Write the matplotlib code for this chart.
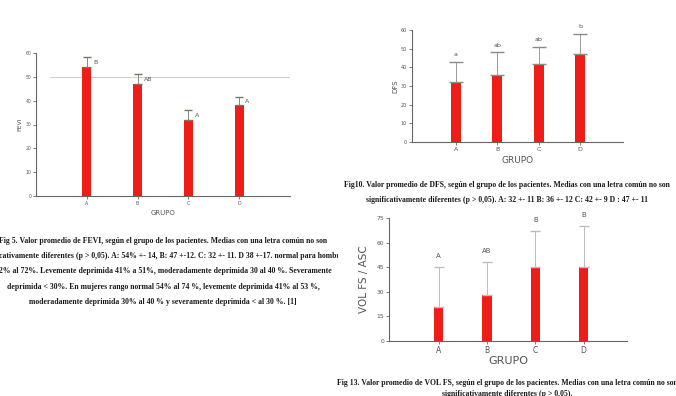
import matplotlib
matplotlib.use("Agg")
import matplotlib.pyplot as plt
from matplotlib.transforms import Bbox, TransformedBbox

# ---- data ----
grupos = ["A", "B", "C", "D"]

fevi_mean = [54, 47, 32, 38]
fevi_err = [4.5, 4.3, 4.0, 3.6]
fevi_letters = ["B", "AB", "A", "A"]
fevi_ticks = [0, 10, 20, 30, 40, 50, 60]
fevi_ref = 50

dfs_mean = [32, 36, 42, 47]
dfs_err = [11, 12, 9, 11]
dfs_letters = ["a", "ab", "ab", "b"]
dfs_ticks = [0, 10, 20, 30, 40, 50, 60]

vol_mean = [21, 28, 45, 45]
vol_err = [24, 20, 22, 25]
vol_letters = ["A", "AB", "B", "B"]
vol_ticks = [0, 15, 30, 45, 60, 75]

cap_fevi = [
    "Fig 5. Valor promedio de FEVI, según el grupo de los pacientes. Medias con una letra común no son",
    "significativamente diferentes (p > 0,05). A: 54% +- 14, B: 47 +-12. C: 32 +- 11. D 38 +-17. normal para hombres",
    "52% al 72%. Levemente deprimida 41% a 51%, moderadamente deprimida 30 al 40 %. Severamente",
    "deprimida < 30%. En mujeres rango normal 54% al 74 %, levemente deprimida 41% al 53 %,",
    "moderadamente deprimida 30% al 40 % y severamente deprimida < al 30 %. [1]",
]
cap_dfs = [
    "Fig10. Valor promedio de DFS, según el grupo de los pacientes. Medias con una letra común no son",
    "significativamente diferentes (p > 0,05). A: 32 +- 11 B: 36 +- 12 C: 42 +- 9 D : 47 +- 11",
]
cap_vol = [
    "Fig 13. Valor promedio de VOL FS, según el grupo de los pacientes. Medias con una letra común no son",
    "significativamente diferentes (p > 0,05).",
]

W, H = 676, 396
RED = "#ee1d18"
AXC = "#666666"

fig = plt.figure(figsize=(W / 100, H / 100), dpi=100)
fig.patch.set_facecolor("white")


def px_axes(x0, ytop, x1, ybot):
    return fig.add_axes([x0 / W, 1 - ybot / H, (x1 - x0) / W, (ybot - ytop) / H])


def style(ax, ticks, xlim, tick_fs, ylabel, ylab_fs, grupo_fs):
    ax.set_xlim(*xlim)
    ax.set_ylim(ticks[0], ticks[-1])
    ax.set_yticks(ticks)
    ax.set_xticks(range(len(grupos)))
    ax.set_xticklabels(grupos)
    for s in ("top", "right"):
        ax.spines[s].set_visible(False)
    for s in ("left", "bottom"):
        ax.spines[s].set_color(AXC)
        ax.spines[s].set_linewidth(0.8)
    ax.tick_params(axis="both", colors=AXC, labelcolor="#555555",
                   labelsize=tick_fs, length=2, width=0.6, pad=1.5)
    ax.set_ylabel(ylabel, fontsize=ylab_fs, color="#555555", labelpad=2)
    ax.set_xlabel("GRUPO", fontsize=grupo_fs, color="#555555", labelpad=3)
    ax.patch.set_alpha(0)


x = range(len(grupos))

# ---- FEVI ----
ax1 = px_axes(36, 53, 290, 196)
ax1.bar(x, fevi_mean, width=0.17, color=RED, zorder=2)
ax1.errorbar(x, fevi_mean, yerr=[[0] * 4, fevi_err], fmt="none",
             ecolor="#777766", elinewidth=0.6, capsize=3.2, capthick=1.0, zorder=3)
ax1.axhline(fevi_ref, xmin=0.055, xmax=1.0, color="#c8c8c8", lw=0.6, zorder=1)
for i, (m, e, l) in enumerate(zip(fevi_mean, fevi_err, fevi_letters)):
    ax1.text(i + 0.12, m + e * 0.45, l, fontsize=4.5, color="#555555",
             ha="left", va="center")
style(ax1, fevi_ticks, (-1, 4), 3.3, "FEVI", 4.5, 5)

# ---- DFS ----
ax2 = px_axes(412, 30, 623, 142)
ax2.bar(x, dfs_mean, width=0.24, color=RED, zorder=2)
ax2.errorbar(x, dfs_mean, yerr=[[0] * 4, dfs_err], fmt="none",
             ecolor="#8a8a8a", elinewidth=0.6, capsize=5, capthick=1.0, zorder=3)
for i, (m, e, l) in enumerate(zip(dfs_mean, dfs_err, dfs_letters)):
    ax2.text(i, m + e + 2.5, l, fontsize=4.5, color="#555555",
             ha="center", va="bottom")
style(ax2, dfs_ticks, (-1.06, 4.04), 3.5, "DFS", 5, 6.5)
ax2.tick_params(axis="x", labelsize=4.5)

# ---- VOL FS / ASC ----
ax3 = px_axes(389, 218, 627, 341)
ax3.bar(x, vol_mean, width=0.19, color=RED, zorder=2)
ax3.errorbar(x, vol_mean, yerr=[[0] * 4, vol_err], fmt="none",
             ecolor="#bdbdbd", elinewidth=0.7, capsize=3.5, capthick=1.0, zorder=3)
for i, (m, e, l) in enumerate(zip(vol_mean, vol_err, vol_letters)):
    ax3.text(i, m + e + 5, l, fontsize=5, color="#555555",
             ha="center", va="bottom")
style(ax3, vol_ticks, (-1.03, 3.9), 4.3, "VOL FS / ASC", 7.5, 8)
ax3.set_ylabel("VOL FS / ASC", fontsize=7.5, color="#555555", labelpad=5)
ax3.xaxis.labelpad = 1
ax3.tick_params(axis="x", labelsize=5.5)

# ---- captions ----
cap_kw = dict(family="Liberation Serif", fontweight="bold", fontsize=5.6,
              color="#1a1a1a", ha="center", va="center")


def caption(lines, xc, ys, clip):
    box = TransformedBbox(Bbox.from_extents(clip[0] / W, 0, clip[1] / W, 1),
                          fig.transFigure)
    for line, y in zip(lines, ys):
        t = fig.text(xc / W, 1 - y / H, line, **cap_kw)
        t.set_clip_box(box)
        t.set_clip_on(True)


caption(cap_fevi, 163, [241, 256, 271, 287, 302], (0, 338))
caption(cap_dfs, 507, [185, 200], (334, 676))
caption(cap_vol, 507, [383, 394], (332, 676))

fig.savefig("out.png", dpi=100, facecolor="white")
